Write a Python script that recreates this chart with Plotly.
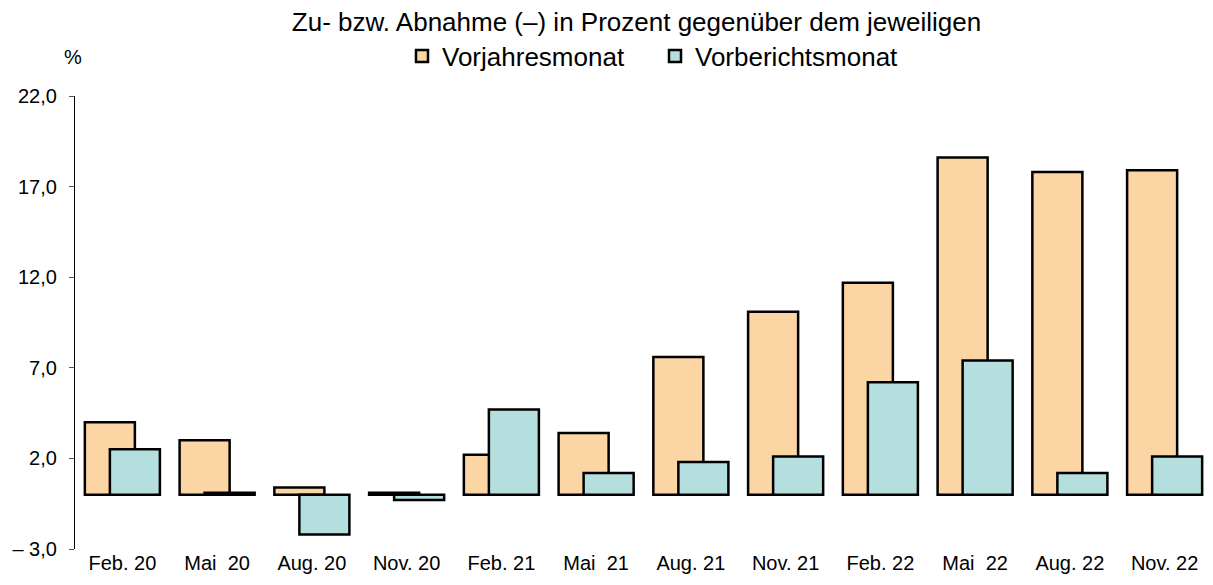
import plotly.graph_objects as go

categories = ["Feb. 20", "Mai  20", "Aug. 20", "Nov. 20", "Feb. 21", "Mai  21",
              "Aug. 21", "Nov. 21", "Feb. 22", "Mai  22", "Aug. 22", "Nov. 22"]
vorjahresmonat = [4.0, 3.0, 0.4, 0.1, 2.2, 3.4, 7.6, 10.1, 11.7, 18.6, 17.8, 17.9]
vorberichtsmonat = [2.5, 0.1, -2.2, -0.3, 4.7, 1.2, 1.8, 2.1, 6.2, 7.4, 1.2, 2.1]
ytick_vals = [-3, 2, 7, 12, 17, 22]
ytick_text = ["\u2013 3,0", "2,0", "7,0", "12,0", "17,0", "22,0"]
title_text = "Zu- bzw. Abnahme (\u2013) in Prozent gegenüber dem jeweiligen"
unit_label = "%"

ORANGE = "#FCD5A4"
CYAN = "#B5DEDE"
FONT = "Liberation Sans, Arial, sans-serif"

# page body has an 8px margin; size the figure so it fills the window
W, H = 1205, 577
ML, MR, MT, MB = 67, 1, 88, 36
PW, PH = W - ML - MR, H - MT - MB

xpos = list(range(len(categories)))
y_min, y_max = ytick_vals[0], ytick_vals[-1]

fig = go.Figure()
fig.add_trace(go.Bar(
    x=xpos, y=vorjahresmonat, name="Vorjahresmonat",
    width=0.528, offset=-0.396,
    marker=dict(color=ORANGE, line=dict(color="black", width=2.5)),
))
fig.add_trace(go.Bar(
    x=xpos, y=vorberichtsmonat, name="Vorberichtsmonat",
    width=0.528, offset=-0.132,
    marker=dict(color=CYAN, line=dict(color="black", width=2.5)),
))

fig.update_layout(
    width=W, height=H,
    margin=dict(l=ML, r=MR, t=MT, b=MB),
    paper_bgcolor="white", plot_bgcolor="white",
    barmode="overlay",
    font=dict(family=FONT, color="black", size=20),
    title=dict(text=title_text, x=628.5 / W, xref="container", xanchor="center",
               y=1 - 14 / H, yref="container", yanchor="middle",
               font=dict(size=26, family=FONT, color="black")),
    legend=dict(orientation="h", x=(394 - ML) / PW, xanchor="left",
                y=1 + (MT - 48) / PH, yanchor="middle",
                font=dict(size=26, family=FONT, color="black"),
                entrywidth=208, itemwidth=30, bgcolor="rgba(0,0,0,0)"),
    xaxis=dict(range=[-0.5, len(categories) - 0.5], tickvals=xpos, ticktext=categories,
               showline=False, ticks="", showgrid=False, zeroline=False,
               ticklabelstandoff=0,
               tickfont=dict(size=20), fixedrange=True),
    xaxis2=dict(range=[-0.5, len(categories) - 0.5], overlaying="x", anchor="free",
                position=(0 - y_min) / (y_max - y_min),
                tickvals=[i - 0.5 for i in range(len(categories) + 1)],
                showticklabels=False, ticks="outside", ticklen=5, tickcolor="#555",
                showline=True, linecolor="black", linewidth=1.2, showgrid=False, zeroline=False),
    yaxis=dict(range=[y_min, y_max], tickvals=ytick_vals, ticktext=ytick_text,
               showline=True, linecolor="black", linewidth=1.2,
               ticks="outside", ticklen=5, tickcolor="#555", ticklabelstandoff=8,
               showgrid=False, zeroline=False, tickfont=dict(size=20)),
    showlegend=True,
)

fig.add_annotation(text=unit_label, xref="paper", yref="paper",
                   x=(65 - ML) / PW, y=1 + (MT - 49) / PH,
                   xanchor="center", yanchor="middle", showarrow=False,
                   font=dict(size=20, family=FONT, color="black"))

fig.write_html("out.html")
